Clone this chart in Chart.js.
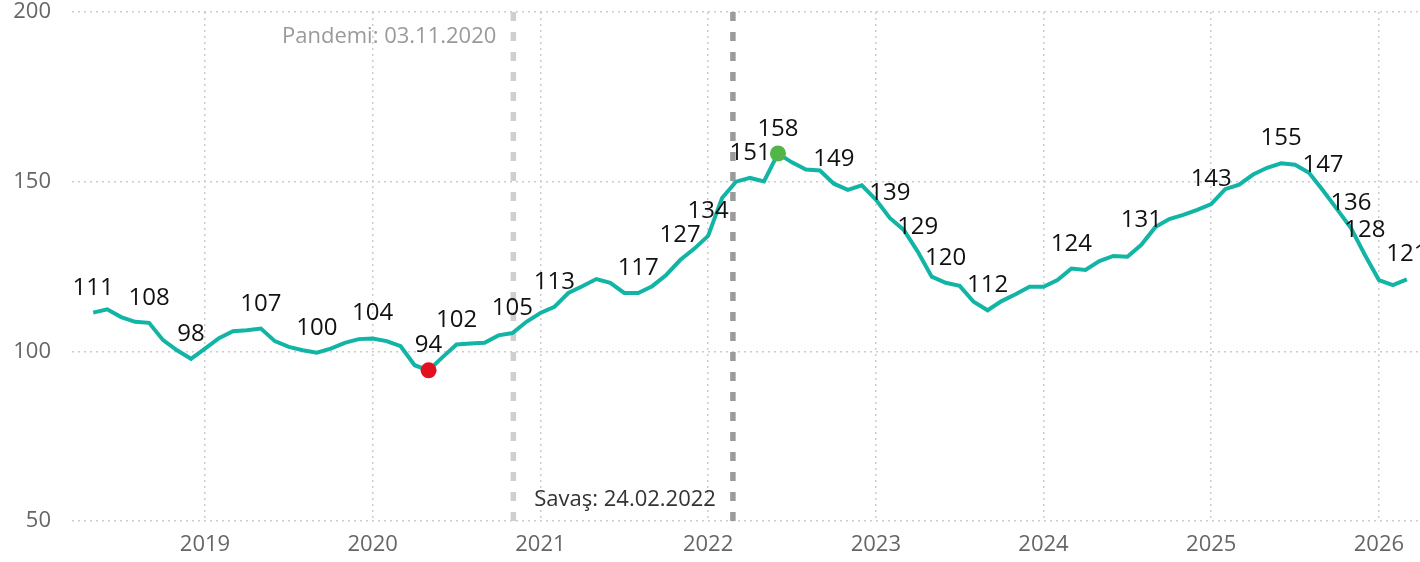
<!DOCTYPE html>
<html>
<head>
<meta charset="utf-8">
<script src="https://cdn.jsdelivr.net/npm/chart.js@4/dist/chart.umd.min.js"></script>
<style>
    html, body { margin: 0; padding: 0; background: #fff; }
    #wrap { width: 1420px; height: 562px; }
</style>
</head>
<body>
<div id="wrap"><canvas id="chart" width="1420" height="562"></canvas></div>
<script>
// monthly index values, 2018-05 .. 2026-03
const months = [
    '2018-05','2018-06','2018-07','2018-08','2018-09','2018-10','2018-11','2018-12',
    '2019-01','2019-02','2019-03','2019-04','2019-05','2019-06','2019-07','2019-08','2019-09','2019-10','2019-11','2019-12',
    '2020-01','2020-02','2020-03','2020-04','2020-05','2020-06','2020-07','2020-08','2020-09','2020-10','2020-11','2020-12',
    '2021-01','2021-02','2021-03','2021-04','2021-05','2021-06','2021-07','2021-08','2021-09','2021-10','2021-11','2021-12',
    '2022-01','2022-02','2022-03','2022-04','2022-05','2022-06','2022-07','2022-08','2022-09','2022-10','2022-11','2022-12',
    '2023-01','2023-02','2023-03','2023-04','2023-05','2023-06','2023-07','2023-08','2023-09','2023-10','2023-11','2023-12',
    '2024-01','2024-02','2024-03','2024-04','2024-05','2024-06','2024-07','2024-08','2024-09','2024-10','2024-11','2024-12',
    '2025-01','2025-02','2025-03','2025-04','2025-05','2025-06','2025-07','2025-08','2025-09','2025-10','2025-11','2025-12',
    '2026-01','2026-02','2026-03'
];
const values = [
    111.4, 112.4, 110.1, 108.7, 108.4, 103.3, 100.3, 97.8,
    100.8, 103.9, 105.9, 106.2, 106.7, 103.0, 101.3, 100.3, 99.6, 100.8, 102.5, 103.6,
    103.8, 103.0, 101.5, 95.9, 94.4, 98.3, 102.0, 102.3, 102.5, 104.7, 105.4, 108.7,
    111.3, 113.1, 117.2, 119.2, 121.3, 120.2, 117.2, 117.2, 119.2, 122.5, 126.9, 130.2,
    134.0, 145.2, 150.0, 151.1, 150.1, 158.3, 155.7, 153.6, 153.3, 149.4, 147.6, 148.9,
    144.7, 139.3, 135.8, 129.4, 122.0, 120.2, 119.3, 114.6, 112.1, 114.8, 116.8, 119.0,
    119.0, 121.0, 124.4, 124.0, 126.6, 128.1, 127.9, 131.4, 136.6, 139.0, 140.2, 141.7,
    143.4, 147.8, 149.1, 152.1, 154.1, 155.4, 155.0, 152.6, 147.4, 141.9, 136.3, 128.4,
    121.0, 119.5, 121.2
];
// months that carry a value label
const labelMonths = [
    '2018-05','2018-09','2018-12','2019-05','2019-09','2020-01','2020-05','2020-07',
    '2020-11','2021-02','2021-08','2021-11','2022-01','2022-04','2022-06','2022-10',
    '2023-02','2023-04','2023-06','2023-09','2024-03','2024-08','2025-01','2025-06',
    '2025-09','2025-11','2025-12','2026-03'
];
const yearTicks = [2019, 2020, 2021, 2022, 2023, 2024, 2025, 2026];
const yTicks = [50, 100, 150, 200];
const eventDates = ['2020-11-03', '2022-02-24'];
const eventNames = ['Pandemi: 03.11.2020', 'Savaş: 24.02.2022'];

const FONT = "'Open Sans', 'Segoe UI', sans-serif";
const TEAL = '#12b5a5';

function monthToYear(m) {
    const [y, mo] = m.split('-').map(Number);
    return y + (mo - 1) / 12;
}
function dateToYear(d) {
    const [y, mo, day] = d.split('-').map(Number);
    const start = Date.UTC(y, 0, 1);
    const len = Date.UTC(y + 1, 0, 1) - start;
    return y + (Date.UTC(y, mo - 1, day) - start) / len;
}

const points = months.map((m, i) => ({ x: monthToYear(m), y: values[i] }));
const minIdx = values.indexOf(Math.min(...values));
const maxIdx = values.indexOf(Math.max(...values));

const eventLines = {
    id: 'eventLines',
    beforeDatasetsDraw(chart) {
        const ctx = chart.ctx;
        const xs = chart.scales.x;
        const area = chart.chartArea;
        const styles = [
            { color: '#cfcfcf', text: '#9a9a9a', y: 37 },
            { color: '#9b9b9b', text: '#333333', y: 500 }
        ];
        eventDates.forEach((d, i) => {
            const px = xs.getPixelForValue(dateToYear(d));
            const st = styles[i];
            ctx.save();
            ctx.strokeStyle = st.color;
            ctx.lineWidth = 5.5;
            ctx.setLineDash([9, 11]);
            ctx.beginPath();
            ctx.moveTo(px, area.top);
            ctx.lineTo(px, area.bottom);
            ctx.stroke();
            ctx.setLineDash([]);
            ctx.fillStyle = st.text;
            ctx.font = '22px ' + FONT;
            ctx.textAlign = 'right';
            ctx.textBaseline = 'middle';
            ctx.fillText(eventNames[i], px - 17, st.y);
            ctx.restore();
        });
    }
};

const valueLabels = {
    id: 'valueLabels',
    afterDatasetsDraw(chart) {
        const ctx = chart.ctx;
        const meta = chart.getDatasetMeta(0);
        ctx.save();
        ctx.fillStyle = '#111';
        ctx.font = '24px ' + FONT;
        ctx.textAlign = 'center';
        ctx.textBaseline = 'alphabetic';
        labelMonths.forEach(m => {
            const i = months.indexOf(m);
            const el = meta.data[i];
            ctx.fillText(String(Math.round(values[i])), el.x, el.y - 18);
        });
        ctx.restore();
    }
};

new Chart(document.getElementById('chart'), {
    type: 'line',
    data: {
        datasets: [{
            data: points,
            borderColor: TEAL,
            borderWidth: 4,
            tension: 0,
            fill: false,
            pointRadius: ctx => (ctx.dataIndex === minIdx || ctx.dataIndex === maxIdx) ? 8 : 0,
            pointBackgroundColor: ctx => ctx.dataIndex === minIdx ? '#e3101f' : '#52b548',
            pointBorderWidth: 0,
            pointHoverRadius: 0
        }]
    },
    options: {
        responsive: false,
        devicePixelRatio: 1,
        animation: false,
        layout: { padding: { top: 12, right: 0, bottom: 0, left: 0 } },
        plugins: {
            legend: { display: false },
            tooltip: { enabled: false }
        },
        scales: {
            x: {
                type: 'linear',
                min: 2018.207,
                max: 2026.245,
                afterBuildTicks: scale => { scale.ticks = yearTicks.map(v => ({ value: v })); },
                afterFit: scale => { scale.height = 41; },
                ticks: {
                    color: '#666',
                    font: { family: FONT, size: 22 },
                    padding: 11,
                    maxRotation: 0,
                    autoSkip: false,
                    callback: v => String(v)
                },
                grid: { color: '#cccccc', lineWidth: 1.5, drawTicks: false },
                border: { display: false, dash: [2, 4] }
            },
            y: {
                min: 50,
                max: 200,
                afterBuildTicks: scale => { scale.ticks = yTicks.map(v => ({ value: v })); },
                afterFit: scale => {
                    scale.width = 72;
                    scale.paddingTop = 0;
                    scale.paddingBottom = 0;
                },
                ticks: {
                    color: '#666',
                    font: { family: FONT, size: 22, lineHeight: 1 },
                    padding: 21
                },
                grid: { color: '#cccccc', lineWidth: 1.5, drawTicks: false },
                border: { display: false, dash: [2, 4] }
            }
        }
    },
    plugins: [eventLines, valueLabels]
});
</script>
</body>
</html>
